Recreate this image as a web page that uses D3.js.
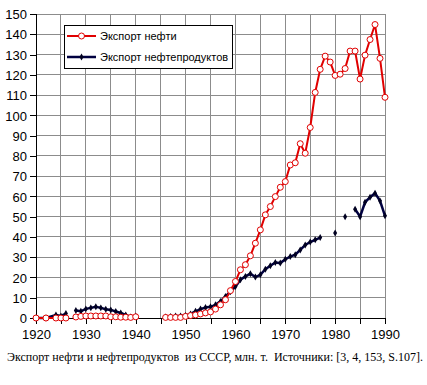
<!DOCTYPE html>
<html>
<head>
<meta charset="utf-8">
<script src="https://cdn.jsdelivr.net/npm/d3@7"></script>
<style>
  body { margin: 0; background: #fff; }
  svg text { font-family: Arial, "Liberation Sans", sans-serif; }
</style>
</head>
<body>
<div id="chart"></div>
<script>
// years, with a null value where the series breaks
const years = [1920, 1922, 1924, 1925, 1926, 1927, 1928, 1929, 1930, 1931, 1932, 1933, 1934,
  1935, 1936, 1937, 1938, 1939, 1940, 1941, 1946, 1947, 1948, 1949, 1950, 1951, 1952, 1953,
  1954, 1955, 1956, 1957, 1958, 1959, 1960, 1961, 1962, 1963, 1964, 1965, 1966, 1967, 1968,
  1969, 1970, 1971, 1972, 1973, 1974, 1975, 1976, 1977, 1978, 1979, 1980, 1981, 1982, 1983,
  1984, 1985, 1986, 1987, 1988, 1989, 1990];

const crudeOil = [0, 0, 0, 0, 0, null, 0.5, 0.8, 1, 1, 1, 1, 1,
  0.6, 0.6, 0.4, 0.4, 0.3, 0.6, null, 0.3, 0.3, 0.3, 0.3, 0.8, 1.2, 1.5, 2,
  2.5, 3, 4.4, 6.5, 9, 13.5, 18, 23.8, 26.3, 30.7, 36.9, 43.5, 50.9, 55, 59.9,
  64.5, 67.3, 75.5, 76.6, 86, 81.3, 94, 111.3, 122.7, 129.2, 126.3, 119.7, 120.3, 123.1, 131.7,
  131.7, 117.9, 129.7, 137.4, 144.8, 128.1, 108.9];

const products = [0, 0, 1.5, 1, 2.2, null, 3.7, 3.3, 4.5, 5, 5.5, 5, 4.3,
  4, 3.2, 2.5, 1.5, 0.5, 1, null, 0.5, 0.8, 1, 1, 1.2, 2, 3.3, 4.4,
  5.2, 5.5, 6.5, 8.2, 10.6, 13, 15.5, 18.9, 20.5, 21.8, 20.2, 21.3, 24.1, 25.8, 27.4,
  27.1, 29, 30.3, 31.2, 33.6, 36, 37.5, 38.6, 39.7, null, null, 41.9, null, 50, null,
  53.7, 50, 57.1, 59.6, 61.6, 57.8, 50.4];

const seriesNames = ["Экспорт нефти", "Экспорт нефтепродуктов"];
const caption = "Экспорт нефти и нефтепродуктов  из СССР, млн. т.  Источники: [3, 4, 153, S.107].";

const width = 427, height = 385;
const margin = { top: 14, right: 42, bottom: 67, left: 36 };
const w = width - margin.left - margin.right;
const h = height - margin.top - margin.bottom;

const svg = d3.select("#chart").append("svg")
  .attr("width", width)
  .attr("height", height);

const g = svg.append("g")
  .attr("transform", "translate(" + margin.left + "," + margin.top + ")");

const x = d3.scaleLinear().domain([1920, 1990]).range([0, w]);
const y = d3.scaleLinear().domain([0, 150]).range([h, 0]);

// grid
g.append("g").selectAll("line")
  .data(d3.range(1925, 1991, 5))
  .enter().append("line")
  .attr("x1", d => x(d)).attr("x2", d => x(d))
  .attr("y1", 0).attr("y2", h)
  .attr("stroke", "#8c8c8c").attr("shape-rendering", "crispEdges");

g.append("g").selectAll("line")
  .data(d3.range(10, 151, 10))
  .enter().append("line")
  .attr("x1", 0).attr("x2", w)
  .attr("y1", d => y(d)).attr("y2", d => y(d))
  .attr("stroke", "#8c8c8c").attr("shape-rendering", "crispEdges");

// axes
const xAxis = d3.axisBottom(x)
  .tickValues(d3.range(1920, 1991, 5))
  .tickSize(6)
  .tickFormat(d => d % 10 === 0 ? d : "");
const yAxis = d3.axisLeft(y)
  .tickValues(d3.range(0, 151, 10))
  .tickSize(6);

const gx = g.append("g")
  .attr("transform", "translate(0," + h + ")")
  .call(xAxis);
gx.selectAll("text").attr("font-size", 13).attr("fill", "#000").attr("dy", "0.95em");

const gy = g.append("g").call(yAxis);
gy.selectAll("text").attr("font-size", 13).attr("fill", "#000").attr("dy", "0.36em");

[gx, gy].forEach(a => {
  a.select(".domain").remove();
  a.selectAll("line").attr("stroke", "#000").attr("shape-rendering", "crispEdges");
});

g.append("line").attr("x1", 0).attr("x2", 0).attr("y1", 0).attr("y2", h)
  .attr("stroke", "#000").attr("shape-rendering", "crispEdges");
g.append("line").attr("x1", 0).attr("x2", w).attr("y1", h).attr("y2", h)
  .attr("stroke", "#000").attr("shape-rendering", "crispEdges");

// series
const oilData = years.map((yr, k) => ({ year: yr, value: crudeOil[k] }));
const prodData = years.map((yr, k) => ({ year: yr, value: products[k] }));

const line = d3.line()
  .defined(d => d.value !== null)
  .x(d => x(d.year))
  .y(d => y(d.value));

g.append("path")
  .datum(prodData)
  .attr("fill", "none")
  .attr("stroke", "#000040")
  .attr("stroke-width", 2.5)
  .attr("d", line);

g.append("g").selectAll("path")
  .data(prodData.filter(d => d.value !== null))
  .enter().append("path")
  .attr("d", d3.symbol(d3.symbolDiamond, 14))
  .attr("transform", d => "translate(" + x(d.year) + "," + y(d.value) + ")")
  .attr("fill", "#000020");

g.append("path")
  .datum(oilData)
  .attr("fill", "none")
  .attr("stroke", "#e00000")
  .attr("stroke-width", 2)
  .attr("d", line);

g.append("g").selectAll("circle")
  .data(oilData.filter(d => d.value !== null))
  .enter().append("circle")
  .attr("cx", d => x(d.year))
  .attr("cy", d => y(d.value))
  .attr("r", 3)
  .attr("fill", "#fff")
  .attr("stroke", "#e00000")
  .attr("stroke-width", 1);

// legend
const legend = svg.append("g").attr("transform", "translate(64,25)");
legend.append("rect")
  .attr("width", 168).attr("height", 43)
  .attr("fill", "#fff").attr("stroke", "#000").attr("shape-rendering", "crispEdges");

const rowY = [11, 32];
legend.append("line").attr("x1", 3).attr("x2", 32).attr("y1", rowY[0]).attr("y2", rowY[0])
  .attr("stroke", "#e00000").attr("stroke-width", 2);
legend.append("circle").attr("cx", 17.5).attr("cy", rowY[0]).attr("r", 3)
  .attr("fill", "#fff").attr("stroke", "#e00000");
legend.append("line").attr("x1", 3).attr("x2", 32).attr("y1", rowY[1]).attr("y2", rowY[1])
  .attr("stroke", "#000040").attr("stroke-width", 2.5);
legend.append("path").attr("d", d3.symbol(d3.symbolDiamond, 14))
  .attr("transform", "translate(17.5," + rowY[1] + ")").attr("fill", "#000020");

legend.selectAll("text.lbl")
  .data(seriesNames)
  .enter().append("text")
  .attr("class", "lbl")
  .attr("x", 36)
  .attr("y", (d, k) => rowY[k])
  .attr("dy", "0.36em")
  .attr("font-size", 11)
  .attr("fill", "#000")
  .text(d => d);

// caption
svg.append("text")
  .attr("x", 7)
  .attr("y", 361)
  .style("font-family", "'Liberation Serif', 'Times New Roman', serif")
  .style("white-space", "pre")
  .attr("font-size", 12)
  .attr("textLength", 416)
  .attr("fill", "#000")
  .text(caption);
</script>
</body>
</html>
